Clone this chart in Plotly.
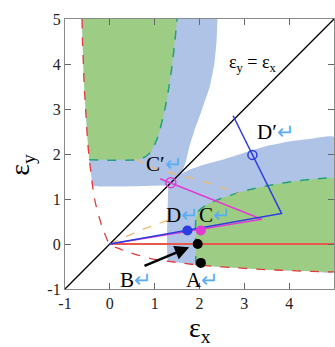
import plotly.graph_objects as go

# ---- data ----
tick_vals = [-1, 0, 1, 2, 3, 4, 5]
tick_text = ["-1", "0", "1", "2", "3", "4", "5"]

# red dashed boundary curve (left branch from top, through origin, lower branch to right)
red_dash_x = [-0.62, -0.61, -0.59, -0.57, -0.54, -0.51, -0.47, -0.41, -0.34, -0.21, -0.12, 0,
              0.25, 0.5, 1, 1.5, 2, 2.5, 3, 3.5, 4, 4.5, 5]
red_dash_y = [5, 4.5, 4, 3.5, 3, 2.5, 2, 1.5, 1, 0.5, 0.25, 0,
              -0.12, -0.21, -0.34, -0.41, -0.47, -0.51, -0.54, -0.57, -0.59, -0.61, -0.62]

# blue region outline
blue_x = [2.40, 2.38, 2.33, 2.23, 2.06, 1.88, 1.77, 1.70, 1.62, 1.58,
          1.80, 2.10, 2.50, 3.00, 3.50, 4.00, 4.50, 5.00,
          5.00, 4.50, 4.00, 3.50, 3.00, 2.50, 2.00, 1.50, 1.30,
          1.30, 1.29, 1.27,
          -0.39, -0.41, -0.47, -0.51, -0.54, -0.57, -0.59, -0.61, -0.62]
blue_y = [5.00, 4.50, 4.00, 3.50, 3.00, 2.50, 2.15, 1.85, 1.62, 1.56,
          1.66, 1.76, 1.87, 2.03, 2.18, 2.28, 2.34, 2.38,
          -0.62, -0.61, -0.59, -0.57, -0.54, -0.51, -0.47, -0.41, -0.39,
          1.27, 1.29, 1.30,
          1.30, 1.50, 2.00, 2.50, 3.00, 3.50, 4.00, 4.50, 5.00]

# lower-right green region boundary (dashed edge)
green_lo_x = [1.92, 1.92, 1.97, 2.08, 2.25, 2.50, 2.80, 3.20, 3.60, 4.00, 4.50, 5.00]
green_lo_y = [-0.47, 0.60, 0.72, 0.82, 0.92, 1.02, 1.12, 1.23, 1.31, 1.38, 1.44, 1.48]
green_lo_bottom_x = [5.00, 4.50, 4.00, 3.50, 3.00, 2.50, 2.00]
green_lo_bottom_y = [-0.62, -0.61, -0.59, -0.57, -0.54, -0.51, -0.47]

# upper-left green region boundary (dashed edge)
green_up_x = [-0.46, 0.62, 0.78, 0.92, 1.04, 1.12, 1.19, 1.26, 1.32, 1.38, 1.44, 1.50]
green_up_y = [1.87, 1.87, 1.93, 2.05, 2.30, 2.55, 2.83, 3.15, 3.50, 3.90, 4.40, 5.00]
green_up_left_x = [-0.62, -0.61, -0.59, -0.57, -0.54, -0.51, -0.47]
green_up_left_y = [5.00, 4.50, 4.00, 3.50, 3.00, 2.50, 2.00]

# orange dashed guide lines
orange1_x = [0, 0.67, 1.30, 1.92]
orange1_y = [0, 0.30, 0.53, 0.72]
orange2_x = [0.55, 1.00, 1.67, 2.34, 2.90]
orange2_y = [1.90, 1.68, 1.50, 1.31, 1.10]

diag_x = [-1, 5]
diag_y = [-1, 5]
red_line_x = [0, 5]
red_line_y = [0, 0]

magenta_x = [0, 3.39, 1.12]
magenta_y = [0, 0.55, 1.45]
blue_line_x = [0, 3.83, 2.75]
blue_line_y = [0, 0.68, 2.85]

black_pts_x = [1.96, 2.03]
black_pts_y = [0.00, -0.42]
D_pt = (1.73, 0.30)
C_pt = (2.03, 0.30)
Cp_pt = (1.36, 1.36)
Dp_pt = (3.18, 1.98)

arrow_from = (0.74, -0.50)
arrow_to = (1.77, -0.07)

labels = [("A", 2.07, -0.80), ("B", 0.58, -0.80), ("C", 2.35, 0.64), ("D", 1.61, 0.64),
          ("C′", 1.23, 1.77), ("D′", 3.70, 2.48)]
diag_label = ("ε<sub>y</sub> = ε<sub>x</sub>", 3.2, 4.02)

# ---- styles ----
BLUE_FILL = "#afc3e7"
GREEN_FILL = "#9dcc85"
GREEN_DASH = "#23a07c"
RED_DASH = "#e03a3a"
RED_LINE = "#e8584c"
ORANGE = "#f0b86a"
MAGENTA = "#e03cd0"
BLUE = "#2b3de0"
ARROWC = "#5aaef0"
SERIF = "Liberation Serif, Times New Roman, serif"

fig = go.Figure()

def add(x, y, **kw):
    fig.add_trace(go.Scatter(x=x, y=y, showlegend=False, hoverinfo="skip", **kw))

# filled regions
add(blue_x, blue_y, mode="lines", fill="toself", fillcolor=BLUE_FILL,
    line=dict(width=0, color=BLUE_FILL, shape="spline", smoothing=0.4))
add(green_lo_x + green_lo_bottom_x, green_lo_y + green_lo_bottom_y, mode="lines", fill="toself",
    fillcolor=GREEN_FILL, line=dict(width=0, color=GREEN_FILL))
add(green_up_x + green_up_left_x, green_up_y + green_up_left_y, mode="lines", fill="toself",
    fillcolor=GREEN_FILL, line=dict(width=0, color=GREEN_FILL))

# boundaries
add(green_lo_x, green_lo_y, mode="lines", line=dict(color=GREEN_DASH, width=1.5, dash="dash", shape="spline", smoothing=0.5))
add(green_up_x, green_up_y, mode="lines", line=dict(color=GREEN_DASH, width=1.5, dash="dash", shape="spline", smoothing=0.5))
add(red_dash_x, red_dash_y, mode="lines", line=dict(color=RED_DASH, width=1.3, dash="dash", shape="spline"))
add(orange1_x, orange1_y, mode="lines", line=dict(color=ORANGE, width=1.3, dash="dash"))
add(orange2_x, orange2_y, mode="lines", line=dict(color=ORANGE, width=1.3, dash="dash", shape="spline"))

# lines
add(diag_x, diag_y, mode="lines", line=dict(color="black", width=1.3))
add(red_line_x, red_line_y, mode="lines", line=dict(color=RED_LINE, width=2))
add(magenta_x, magenta_y, mode="lines", line=dict(color=MAGENTA, width=1.5))
add(blue_line_x, blue_line_y, mode="lines", line=dict(color=BLUE, width=1.5))

# points
add(black_pts_x, black_pts_y, mode="markers", marker=dict(color="black", size=10))
add([D_pt[0]], [D_pt[1]], mode="markers", marker=dict(color=BLUE, size=10))
add([C_pt[0]], [C_pt[1]], mode="markers", marker=dict(color=MAGENTA, size=10))
add([Cp_pt[0]], [Cp_pt[1]], mode="markers", marker=dict(color="rgba(0,0,0,0)", size=10, line=dict(color=MAGENTA, width=1.5)))
add([Dp_pt[0]], [Dp_pt[1]], mode="markers", marker=dict(color="rgba(0,0,0,0)", size=9, line=dict(color=BLUE, width=1.5)))

annotations = []
annotations.append(dict(x=arrow_to[0], y=arrow_to[1], ax=arrow_from[0], ay=arrow_from[1],
                        xref="x", yref="y", axref="x", ayref="y", text="", showarrow=True,
                        arrowhead=2, arrowsize=1.1, arrowwidth=2.6, arrowcolor="black"))
for t, x, y in labels:
    annotations.append(dict(x=x, y=y, xref="x", yref="y", showarrow=False,
                            xanchor="center", yanchor="middle",
                            text=f"{t}<span style='color:{ARROWC}'>↵</span>",
                            font=dict(family=SERIF, size=21, color="black")))
annotations.append(dict(x=diag_label[1], y=diag_label[2], xref="x", yref="y", showarrow=False,
                        text=diag_label[0], font=dict(family=SERIF, size=18, color="black")))
annotations.append(dict(x=-0.16, y=0.46, xref="paper", yref="paper", showarrow=False, textangle=-90,
                        xanchor="center", yanchor="middle",
                        text="ε<sub>y</sub>", font=dict(family=SERIF, size=28, color="black")))
annotations.append(dict(x=0.5, y=-0.15, xref="paper", yref="paper", showarrow=False,
                        xanchor="center", yanchor="middle",
                        text="ε<sub>x</sub>", font=dict(family=SERIF, size=28, color="black")))

axis_common = dict(range=[-1, 5], tickvals=tick_vals, ticktext=tick_text, showgrid=False, zeroline=False,
                   showline=True, linecolor="#8a8a8a", linewidth=1.2, mirror="ticks", ticks="inside",
                   ticklen=6, tickcolor="#666", tickfont=dict(family=SERIF, size=16, color="#222"),
                   automargin=False)

fig.update_layout(
    width=335, height=347, margin=dict(l=65, r=1, t=19, b=58, autoexpand=False),
    plot_bgcolor="white", paper_bgcolor="white",
    xaxis=dict(**axis_common), yaxis=dict(**axis_common),
    annotations=annotations, showlegend=False,
)
fig.write_html("out.html", config={"displayModeBar": False},
               post_script="document.body.style.margin='0';document.body.style.padding='0';document.body.style.overflow='hidden';")
